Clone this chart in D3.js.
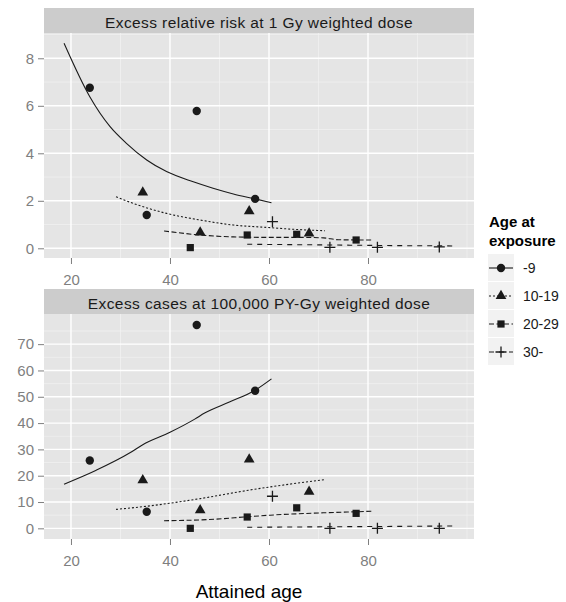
<!DOCTYPE html>
<html>
<head>
<meta charset="utf-8">
<script src="https://cdn.jsdelivr.net/npm/d3@7"></script>
<style>
  body { margin: 0; background: #fff; font-family: "Liberation Sans", Arial, sans-serif; }
</style>
</head>
<body>
<div id="chart"></div>
<script>
// age at exposure groups
const groups = ["-9", "10-19", "20-29", "30-"]
const dashes = [null, "2,2", "5,2.5", "5,5"]
const shapes = ["circle", "triangle", "square", "cross"]

// observed points (attained age, excess relative risk, excess cases)
const obsAge9 = [23.8, 35.3, 45.4, 57.2]
const obsErr9 = [6.76, 1.40, 5.78, 2.08]
const obsEc9 = [25.8, 6.3, 77.3, 52.3]
const obsAge10 = [34.5, 46.1, 56.0, 68.1]
const obsErr10 = [2.35, 0.67, 1.56, 0.63]
const obsEc10 = [18.3, 6.9, 26.2, 13.9]
const obsAge20 = [44.1, 55.6, 65.6, 77.6]
const obsErr20 = [0.03, 0.56, 0.59, 0.35]
const obsEc20 = [0.0, 4.3, 7.8, 5.7]
const obsAge30 = [60.7, 72.3, 81.9, 94.4]
const obsErr30 = [1.12, 0.04, 0.04, 0.06]
const obsEc30 = [12.2, 0.0, 0.0, 0.0]

// fitted curves, excess relative risk
const fitErrAge9 = [18.6, 23.8, 27.9, 31.2, 35.3, 39.3, 44.7, 48.7, 52.8, 57.2, 60.5]
const fitErr9 = [8.63, 6.38, 5.12, 4.42, 3.72, 3.23, 2.80, 2.53, 2.29, 2.08, 1.92]
const fitErrAge10 = [29.1, 32.6, 39.3, 46.1, 52.8, 59.5, 65.0, 71.3]
const fitErr10 = [2.17, 1.89, 1.47, 1.19, 0.98, 0.88, 0.80, 0.74]
const fitErrAge20 = [38.8, 46.1, 52.8, 59.5, 66.0, 71.0, 74.0, 80.7]
const fitErr20 = [0.73, 0.56, 0.48, 0.46, 0.46, 0.44, 0.36, 0.35]
const fitErrAge30 = [55.6, 72.3, 81.9, 97.2]
const fitErr30 = [0.17, 0.14, 0.12, 0.10]

// fitted curves, excess cases
const fitEcAge9 = [18.6, 25.0, 32.0, 34.5, 40.0, 45.0, 47.0, 52.0, 57.2, 60.5]
const fitEc9 = [16.8, 22.0, 28.8, 31.8, 36.5, 41.5, 43.8, 48.0, 52.5, 56.8]
const fitEcAge10 = [29.1, 35.3, 46.1, 55.9, 64.2, 71.3]
const fitEc10 = [7.2, 8.4, 11.3, 14.5, 16.8, 18.5]
const fitEcAge20 = [38.8, 49.4, 55.6, 60.2, 71.0, 77.6, 80.7]
const fitEc20 = [2.9, 3.5, 4.4, 5.0, 5.9, 6.3, 6.5]
const fitEcAge30 = [55.6, 72.3, 81.9, 97.2]
const fitEc30 = [0.4, 0.6, 0.7, 0.9]

const xTicks = [20, 40, 60, 80]
const xMinor = [30, 50, 70, 90, 100]
const errTicks = [0, 2, 4, 6, 8]
const errMinor = [1, 3, 5, 7, 9]
const ecTicks = [0, 10, 20, 30, 40, 50, 60, 70]
const ecMinor = [5, 15, 25, 35, 45, 55, 65, 75]

const zip = (a, b) => a.map((v, i) => ({ x: v, y: b[i] }))

const panels = [
  {
    title: "Excess relative risk at 1 Gy weighted dose",
    top: 8, domain: [-0.408, 9.065], ticks: errTicks, minor: errMinor,
    obs: [zip(obsAge9, obsErr9), zip(obsAge10, obsErr10), zip(obsAge20, obsErr20), zip(obsAge30, obsErr30)],
    fit: [zip(fitErrAge9, fitErr9), zip(fitErrAge10, fitErr10), zip(fitErrAge20, fitErr20), zip(fitErrAge30, fitErr30)]
  },
  {
    title: "Excess cases at 100,000 PY-Gy weighted dose",
    top: 289, domain: [-4.05, 81.46], ticks: ecTicks, minor: ecMinor,
    obs: [zip(obsAge9, obsEc9), zip(obsAge10, obsEc10), zip(obsAge20, obsEc20), zip(obsAge30, obsEc30)],
    fit: [zip(fitEcAge9, fitEc9), zip(fitEcAge10, fitEc10), zip(fitEcAge20, fitEc20), zip(fitEcAge30, fitEc30)]
  }
]

const W = 566, H = 602
const left = 44, right = 474, stripH = 25, panelH = 225
const ink = "#1a1a1a", axisGrey = "#7f7f7f"

const svg = d3.select("#chart").append("svg")
  .attr("width", W).attr("height", H)

const x = d3.scaleLinear().domain([14.55, 101.41]).range([left, right])

function drawShape(g, shape, cx, cy) {
  if (shape === "cross") {
    g.append("path")
      .attr("d", `M${cx - 5.5},${cy}H${cx + 5.5}M${cx},${cy - 5.5}V${cy + 5.5}`)
      .attr("stroke", ink).attr("stroke-width", 1.3).attr("fill", "none")
    return
  }
  const sym = { circle: [d3.symbolCircle, 55], triangle: [d3.symbolTriangle, 50], square: [d3.symbolSquare, 52] }[shape]
  g.append("path")
    .attr("d", d3.symbol().type(sym[0]).size(sym[1])())
    .attr("transform", `translate(${cx},${cy})`)
    .attr("fill", ink)
}

panels.forEach(p => {
  const pTop = p.top + stripH, pBot = pTop + panelH
  const y = d3.scaleLinear().domain(p.domain).range([pBot, pTop])
  const g = svg.append("g")

  // strip
  g.append("rect").attr("x", left).attr("y", p.top).attr("width", right - left).attr("height", stripH)
    .attr("fill", "#cccccc")
  g.append("text").attr("x", (left + right) / 2).attr("y", p.top + 20)
    .attr("text-anchor", "middle").attr("font-size", 15.5).attr("letter-spacing", 0.4)
    .attr("fill", ink).text(p.title)

  // panel background + grid
  g.append("rect").attr("x", left).attr("y", pTop).attr("width", right - left).attr("height", panelH)
    .attr("fill", "#e5e5e5")
  g.selectAll(".xmin").data(xMinor).enter().append("line")
    .attr("x1", d => x(d)).attr("x2", d => x(d)).attr("y1", pTop).attr("y2", pBot)
    .attr("stroke", "#f2f2f2").attr("stroke-width", 0.7)
  g.selectAll(".ymin").data(p.minor.filter(d => y(d) > pTop)).enter().append("line")
    .attr("x1", left).attr("x2", right).attr("y1", d => y(d)).attr("y2", d => y(d))
    .attr("stroke", "#f2f2f2").attr("stroke-width", 0.7)
  g.selectAll(".xmaj").data(xTicks).enter().append("line")
    .attr("x1", d => x(d)).attr("x2", d => x(d)).attr("y1", pTop).attr("y2", pBot)
    .attr("stroke", "#fff").attr("stroke-width", 1.4)
  g.selectAll(".ymaj").data(p.ticks).enter().append("line")
    .attr("x1", left).attr("x2", right).attr("y1", d => y(d)).attr("y2", d => y(d))
    .attr("stroke", "#fff").attr("stroke-width", 1.4)

  // axes
  const ax = g.append("g").attr("transform", `translate(0,${pBot})`)
    .call(d3.axisBottom(x).tickValues(xTicks).tickSize(6).tickPadding(10))
  const ay = g.append("g").attr("transform", `translate(${left},0)`)
    .call(d3.axisLeft(y).tickValues(p.ticks).tickSize(6).tickPadding(4))
  ;[ax, ay].forEach(a => {
    a.select(".domain").remove()
    a.selectAll(".tick line").attr("stroke", axisGrey)
    a.selectAll(".tick text").attr("fill", axisGrey).attr("font-size", 15)
      .attr("font-family", "Liberation Sans, Arial, sans-serif")
  })

  // fitted lines
  const line = d3.line().curve(d3.curveMonotoneX).x(d => x(d.x)).y(d => y(d.y))
  p.fit.forEach((f, i) => {
    g.append("path").datum(f).attr("d", line)
      .attr("fill", "none").attr("stroke", ink).attr("stroke-width", 1.1)
      .attr("stroke-dasharray", dashes[i])
  })

  // observed points
  p.obs.forEach((o, i) => {
    o.forEach(d => drawShape(g, shapes[i], x(d.x), y(d.y)))
  })
})

// x axis title
svg.append("text").attr("x", 249).attr("y", 598).attr("text-anchor", "middle")
  .attr("font-size", 19).attr("fill", "#000").text("Attained age")

// legend
const leg = svg.append("g")
leg.append("text").attr("x", 489).attr("y", 227).attr("font-size", 15).attr("font-weight", "bold")
  .attr("fill", "#000").text("Age at")
leg.append("text").attr("x", 489).attr("y", 246).attr("font-size", 15).attr("font-weight", "bold")
  .attr("fill", "#000").text("exposure")

groups.forEach((grp, i) => {
  const ky = 254 + i * 28
  leg.append("rect").attr("x", 488).attr("y", ky).attr("width", 26).attr("height", 27)
    .attr("fill", "#f2f2f2")
  leg.append("line").attr("x1", 489).attr("x2", 513).attr("y1", ky + 14).attr("y2", ky + 14)
    .attr("stroke", ink).attr("stroke-width", 1.1).attr("stroke-dasharray", dashes[i])
  drawShape(leg, shapes[i], 501, ky + 14)
  leg.append("text").attr("x", 523).attr("y", ky + 19).attr("font-size", 14)
    .attr("fill", ink).text(grp)
})
</script>
</body>
</html>
